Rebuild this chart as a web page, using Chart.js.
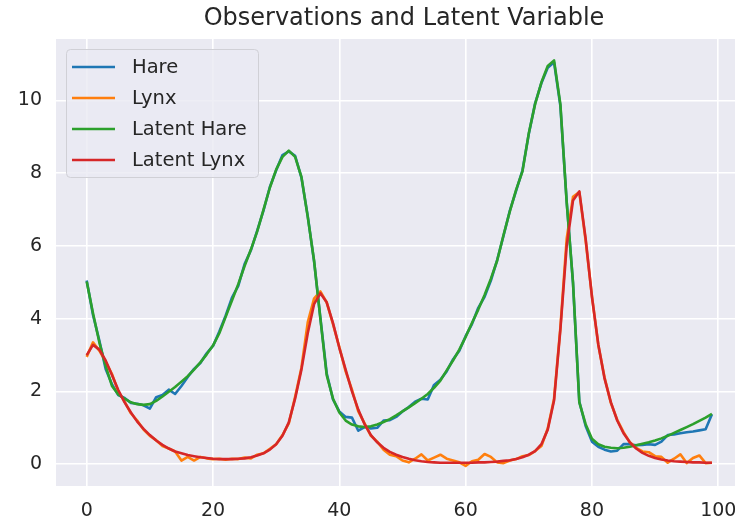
<!DOCTYPE html>
<html>
<head>
<meta charset="utf-8">
<script src="https://cdn.jsdelivr.net/npm/chart.js@4/dist/chart.umd.min.js"></script>
<style>
  html, body { margin: 0; padding: 0; background: #ffffff; }
  #wrap { width: 735px; height: 523px; }
</style>
</head>
<body>
<div id="wrap"><canvas id="grafica" width="735" height="523"></canvas></div>
<script>
// time index
var pasos = [0,1,2,3,4,5,6,7,8,9,10,11,12,13,14,15,16,17,18,19,20,21,22,23,24,25,26,27,28,29,
  30,31,32,33,34,35,36,37,38,39,40,41,42,43,44,45,46,47,48,49,50,51,52,53,54,55,56,57,58,59,
  60,61,62,63,64,65,66,67,68,69,70,71,72,73,74,75,76,77,78,79,80,81,82,83,84,85,86,87,88,89,
  90,91,92,93,94,95,96,97,98,99];

// observed hares
var hare = [5.05,4.1,3.4,2.62,2.2,1.9,1.82,1.68,1.66,1.62,1.53,1.84,1.9,2.05,1.93,2.15,2.4,2.62,2.78,3.05,
  3.25,3.65,4.08,4.58,4.9,5.5,5.88,6.42,6.98,7.62,8.08,8.5,8.6,8.48,7.88,6.82,5.58,4.02,2.5,1.78,
  1.45,1.3,1.28,0.92,1.02,0.98,1.0,1.2,1.21,1.3,1.45,1.57,1.72,1.8,1.78,2.18,2.32,2.55,2.88,3.12,
  3.52,3.85,4.3,4.6,5.05,5.62,6.28,6.97,7.52,8.08,9.08,9.92,10.48,10.9,11.05,9.85,7.22,4.98,1.72,1.05,
  0.62,0.48,0.4,0.35,0.37,0.55,0.55,0.52,0.53,0.55,0.53,0.62,0.8,0.82,0.85,0.88,0.9,0.93,0.96,1.37];

// observed lynx
var lynx = [2.95,3.35,3.12,2.82,2.48,2.0,1.72,1.4,1.2,0.95,0.78,0.66,0.5,0.43,0.35,0.1,0.2,0.1,0.2,0.16,
  0.14,0.15,0.12,0.15,0.14,0.18,0.16,0.26,0.3,0.42,0.55,0.8,1.12,1.85,2.65,3.9,4.55,4.75,4.45,3.85,
  3.22,2.55,2.05,1.45,1.12,0.78,0.62,0.4,0.26,0.22,0.1,0.05,0.15,0.27,0.1,0.18,0.26,0.15,0.1,0.05,
  -0.05,0.08,0.12,0.28,0.2,0.05,0.03,0.1,0.14,0.22,0.25,0.36,0.5,0.98,1.8,3.75,6.2,7.35,7.48,6.15,
  4.62,3.28,2.38,1.68,1.22,0.88,0.6,0.45,0.35,0.33,0.22,0.2,0.04,0.15,0.27,0.03,0.17,0.24,0.03,0.04];

// latent hare
var latenteHare = [5.02,4.15,3.35,2.7,2.15,1.92,1.8,1.7,1.65,1.63,1.65,1.74,1.86,1.99,2.12,2.27,2.42,2.6,2.8,3.02,
  3.26,3.6,4.05,4.5,4.95,5.45,5.9,6.4,7.0,7.6,8.1,8.45,8.62,8.45,7.9,6.8,5.6,4.0,2.45,1.8,
  1.42,1.2,1.09,1.04,1.02,1.04,1.09,1.16,1.24,1.34,1.45,1.56,1.68,1.8,1.93,2.1,2.3,2.58,2.85,3.15,
  3.5,3.88,4.25,4.65,5.1,5.6,6.3,6.95,7.55,8.05,9.1,9.9,10.5,10.95,11.1,9.9,7.2,5.0,1.7,1.1,
  0.7,0.55,0.48,0.45,0.44,0.45,0.48,0.52,0.56,0.6,0.65,0.71,0.78,0.86,0.94,1.02,1.1,1.19,1.28,1.38];

// latent lynx
var latenteLynx = [3.0,3.28,3.15,2.85,2.45,2.04,1.7,1.42,1.17,0.97,0.8,0.65,0.53,0.43,0.35,0.3,0.25,0.22,0.19,0.17,
  0.15,0.14,0.14,0.14,0.15,0.16,0.19,0.24,0.3,0.4,0.55,0.78,1.15,1.8,2.6,3.6,4.4,4.7,4.45,3.88,
  3.2,2.6,2.0,1.5,1.1,0.8,0.6,0.45,0.34,0.26,0.2,0.15,0.11,0.08,0.06,0.05,0.04,0.04,0.04,0.04,
  0.04,0.04,0.05,0.05,0.06,0.07,0.09,0.11,0.14,0.19,0.26,0.36,0.55,0.95,1.75,3.7,6.0,7.25,7.5,6.2,
  4.6,3.3,2.35,1.7,1.2,0.85,0.6,0.43,0.31,0.23,0.17,0.13,0.1,0.08,0.07,0.06,0.05,0.05,0.04,0.04];

var ticksX = [0, 20, 40, 60, 80, 100];
var ticksY = [0, 2, 4, 6, 8, 10];
var titulo = 'Observations and Latent Variable';

var fuente = '"DejaVu Sans", sans-serif';
var textoColor = '#262626';

function puntos(valores) {
  return valores.map(function (v, i) { return { x: pasos[i], y: v }; });
}

function serie(label, valores, color, orden) {
  return {
    label: label,
    data: puntos(valores),
    borderColor: color,
    backgroundColor: color,
    borderWidth: 2.6,
    pointRadius: 0,
    tension: 0,
    fill: false,
    borderJoinStyle: 'round',
    order: orden
  };
}

// plot background
var fondo = {
  id: 'fondo',
  beforeDraw: function (chart) {
    var ctx = chart.ctx, a = chart.chartArea;
    ctx.save();
    ctx.fillStyle = '#ffffff';
    ctx.fillRect(0, 0, chart.width, chart.height);
    ctx.fillStyle = '#eaeaf2';
    ctx.fillRect(a.left, a.top, a.right - a.left, a.bottom - a.top);
    ctx.restore();
  }
};

// title centred over the full axes (which run past the right edge)
var encabezado = {
  id: 'encabezado',
  afterDraw: function (chart) {
    var ctx = chart.ctx;
    ctx.save();
    ctx.font = '24px ' + fuente;
    ctx.fillStyle = textoColor;
    ctx.textAlign = 'center';
    ctx.textBaseline = 'middle';
    ctx.fillText(titulo, 404, 19);
    ctx.restore();
  }
};

// matplotlib style legend box inside the axes
var leyenda = {
  id: 'leyenda',
  afterDraw: function (chart) {
    var ctx = chart.ctx;
    ctx.save();
    ctx.beginPath();
    ctx.roundRect(66.5, 49.5, 192, 128, 4);
    ctx.fillStyle = 'rgba(234, 234, 242, 0.8)';
    ctx.fill();
    ctx.strokeStyle = '#d0d0d6';
    ctx.lineWidth = 1;
    ctx.stroke();
    ctx.font = '19.5px ' + fuente;
    ctx.textBaseline = 'middle';
    ctx.textAlign = 'left';
    chart.data.datasets.forEach(function (ds, i) {
      var y = 67 + i * 31;
      ctx.beginPath();
      ctx.moveTo(72, y);
      ctx.lineTo(115, y);
      ctx.strokeStyle = ds.borderColor;
      ctx.lineWidth = 2.6;
      ctx.stroke();
      ctx.fillStyle = textoColor;
      ctx.fillText(ds.label, 132, y + 1);
    });
    ctx.restore();
  }
};

new Chart(document.getElementById('grafica'), {
  type: 'line',
  data: {
    datasets: [
      serie('Hare', hare, '#1f77b4', 4),
      serie('Lynx', lynx, '#ff7f0e', 3),
      serie('Latent Hare', latenteHare, '#2ca02c', 2),
      serie('Latent Lynx', latenteLynx, '#d62728', 1)
    ]
  },
  options: {
    responsive: false,
    animation: false,
    layout: { padding: { top: 39 } },
    plugins: {
      legend: { display: false },
      tooltip: { enabled: false },
      title: { display: false }
    },
    scales: {
      x: {
        type: 'linear',
        min: -4.86,
        max: 102.65,
        afterFit: function (s) { s.height = 37; s.paddingLeft = 0; s.paddingRight = 0; },
        afterBuildTicks: function (s) { s.ticks = ticksX.map(function (v) { return { value: v }; }); },
        border: { display: false },
        grid: { color: '#ffffff', lineWidth: 1.6, drawTicks: false },
        ticks: {
          color: textoColor,
          font: { family: fuente, size: 19 },
          padding: 14,
          maxRotation: 0,
          autoSkip: false
        }
      },
      y: {
        type: 'linear',
        min: -0.6,
        max: 11.69,
        afterFit: function (s) { s.width = 56; s.paddingTop = 0; s.paddingBottom = 0; },
        afterBuildTicks: function (s) { s.ticks = ticksY.map(function (v) { return { value: v }; }); },
        border: { display: false },
        grid: { color: '#ffffff', lineWidth: 1.6, drawTicks: false },
        ticks: {
          color: textoColor,
          font: { family: fuente, size: 19 },
          padding: 14,
          autoSkip: false
        }
      }
    }
  },
  plugins: [fondo, encabezado, leyenda]
});
</script>
</body>
</html>
